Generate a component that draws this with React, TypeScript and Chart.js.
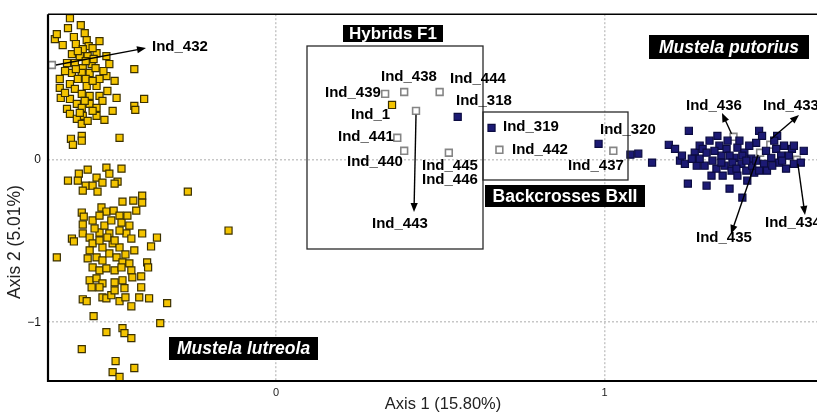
import React, { useEffect, useRef } from "react";
import { Chart, registerables } from "chart.js";
Chart.register(...registerables);

// Axis ticks
const xTickValues = [0, 1];
const yTickValues = [-1, 0];
const xTitle = "Axis 1 (15.80%)";
const yTitle = "Axis 2 (5.01%)";

// Mustela lutreola – upper cloud
const lutreolaUpper: [number, number][] = [
  [-0.628, 0.871], [-0.634, 0.81], [-0.595, 0.828], [-0.583, 0.779], [-0.674, 0.742],
  [-0.65, 0.706], [-0.616, 0.755], [-0.577, 0.736], [-0.61, 0.712], [-0.571, 0.699],
  [-0.589, 0.681], [-0.547, 0.656], [-0.622, 0.65], [-0.598, 0.638], [-0.574, 0.638],
  [-0.517, 0.638], [-0.637, 0.595], [-0.613, 0.595], [-0.562, 0.589], [-0.508, 0.589],
  [-0.589, 0.564], [-0.432, 0.558], [-0.622, 0.534], [-0.592, 0.534], [-0.568, 0.534],
  [-0.517, 0.515], [-0.659, 0.497], [-0.604, 0.497], [-0.492, 0.485], [-0.628, 0.466],
  [-0.577, 0.454], [-0.547, 0.454], [-0.659, 0.442], [-0.613, 0.436], [-0.514, 0.423],
  [-0.592, 0.405], [-0.568, 0.393], [-0.538, 0.393], [-0.656, 0.38], [-0.628, 0.374],
  [-0.486, 0.38], [-0.402, 0.374], [-0.607, 0.344], [-0.568, 0.344], [-0.432, 0.331],
  [-0.637, 0.313], [-0.592, 0.319], [-0.547, 0.319], [-0.498, 0.301], [-0.429, 0.307],
  [-0.628, 0.282], [-0.589, 0.27], [-0.547, 0.27], [-0.607, 0.252], [-0.523, 0.245],
  [-0.592, 0.221], [-0.477, 0.135], [-0.625, 0.129], [-0.592, 0.147], [-0.619, 0.092],
  [-0.592, 0.117], [-0.604, 0.669], [-0.559, 0.687], [-0.58, 0.607], [-0.55, 0.564],
  [-0.61, 0.558], [-0.538, 0.497], [-0.643, 0.546], [-0.556, 0.62], [-0.583, 0.362],
  [-0.559, 0.301], [-0.574, 0.239], [-0.538, 0.73], [-0.668, 0.773], [-0.526, 0.546],
  [-0.58, 0.497], [-0.559, 0.485], [-0.643, 0.411], [-0.529, 0.362], [-0.598, 0.288],
];

// Mustela lutreola – lower cloud
const lutreolaLower: [number, number][] = [
  [-0.634, -0.129], [-0.601, -0.086], [-0.604, -0.129], [-0.574, -0.061], [-0.547, -0.11],
  [-0.517, -0.049], [-0.508, -0.086], [-0.471, -0.055], [-0.483, -0.135], [-0.492, -0.147],
  [-0.529, -0.141], [-0.58, -0.16], [-0.559, -0.16], [-0.589, -0.19], [-0.544, -0.196],
  [-0.269, -0.196], [-0.408, -0.221], [-0.435, -0.252], [-0.408, -0.264], [-0.468, -0.258],
  [-0.532, -0.294], [-0.517, -0.319], [-0.495, -0.313], [-0.426, -0.313], [-0.592, -0.325],
  [-0.586, -0.35], [-0.477, -0.344], [-0.559, -0.374], [-0.471, -0.387], [-0.589, -0.399],
  [-0.447, -0.405], [-0.145, -0.436], [-0.622, -0.485], [-0.616, -0.503], [-0.408, -0.454],
  [-0.363, -0.479], [-0.381, -0.534], [-0.456, -0.454], [-0.441, -0.485], [-0.668, -0.601],
  [-0.589, -0.454], [-0.538, -0.448], [-0.568, -0.479], [-0.508, -0.454], [-0.477, -0.436],
  [-0.393, -0.632], [-0.39, -0.663], [-0.411, -0.718], [-0.411, -0.785], [-0.417, -0.847],
  [-0.387, -0.853], [-0.332, -0.883], [-0.589, -0.859], [-0.577, -0.871], [-0.529, -0.847],
  [-0.517, -0.853], [-0.502, -0.834], [-0.477, -0.871], [-0.459, -0.847], [-0.441, -0.902],
  [-0.556, -0.963], [-0.353, -1.006], [-0.517, -1.061], [-0.468, -1.037], [-0.462, -1.067],
  [-0.441, -1.098], [-0.592, -1.166], [-0.489, -1.239], [-0.432, -1.282], [-0.498, -1.307],
  [-0.477, -1.337], [-0.574, -0.607], [-0.547, -0.601], [-0.529, -0.62], [-0.508, -0.577],
  [-0.486, -0.601], [-0.468, -0.632], [-0.447, -0.638], [-0.559, -0.663], [-0.538, -0.681],
  [-0.517, -0.669], [-0.492, -0.681], [-0.471, -0.663], [-0.441, -0.681], [-0.568, -0.742],
  [-0.547, -0.73], [-0.529, -0.761], [-0.492, -0.755], [-0.468, -0.742], [-0.438, -0.724],
  [-0.562, -0.785], [-0.538, -0.785], [-0.492, -0.804], [-0.462, -0.791], [-0.559, -0.515],
  [-0.529, -0.54], [-0.498, -0.515], [-0.477, -0.54], [-0.538, -0.497], [-0.568, -0.558],
  [-0.514, -0.479], [-0.492, -0.497], [-0.523, -0.405], [-0.502, -0.374], [-0.538, -0.344],
  [-0.453, -0.344], [-0.553, -0.423], [-0.432, -0.558], [-0.459, -0.583],
];

// Ind_1 (lutreola-coloured point among the hybrids)
const lutreolaHybridZone: [number, number][] = [[0.353, 0.337]];

// Mustela putorius
const putorius: [number, number][] = [
  [1.257, 0.178], [1.196, 0.092], [1.215, 0.067], [1.23, -0.006], [1.245, -0.025],
  [1.254, -0.147], [1.275, 0.043], [1.281, -0.037], [1.29, 0.086], [1.299, 0.067],
  [1.305, -0.037], [1.311, -0.16], [1.326, -0.098], [1.329, -0.006], [1.344, 0.147],
  [1.35, 0.086], [1.356, 0.025], [1.36, -0.098], [1.366, -0.037], [1.372, 0.067],
  [1.381, -0.178], [1.387, -0.067], [1.396, 0.012], [1.405, 0.074], [1.405, -0.098],
  [1.417, -0.025], [1.42, -0.233], [1.426, 0.043], [1.432, -0.067], [1.435, -0.129],
  [1.447, 0.006], [1.456, -0.08], [1.462, 0.104], [1.471, 0.178], [1.48, 0.147],
  [1.486, -0.025], [1.495, -0.067], [1.508, 0.012], [1.523, 0.067], [1.526, 0.147],
  [1.532, -0.018], [1.538, 0.025], [1.547, 0.086], [1.553, -0.055], [1.571, 0.067],
  [1.577, -0.025], [1.598, -0.018], [1.607, 0.055], [1.577, 0.086], [1.275, 0.006],
  [1.29, 0.006], [1.311, 0.043], [1.335, 0.055], [1.341, -0.055], [1.381, 0.025],
  [1.39, -0.018], [1.411, 0.117], [1.42, 0.025], [1.441, 0.086], [1.45, -0.037],
  [1.462, -0.006], [1.471, -0.067], [1.492, 0.055], [1.511, -0.037], [1.517, 0.117],
  [1.541, -0.006], [1.562, 0.025], [1.375, 0.117], [1.32, 0.117], [1.266, 0.006],
  [1.236, 0.025], [1.356, -0.018], [1.402, -0.055], [1.432, -0.006],
  [1.079, 0.031], [1.103, 0.037], [1.145, -0.018],
  [0.982, 0.098], [0.553, 0.264], [0.656, 0.196],
];

// Hybrid / admixed individuals (open squares)
const hybridNames = [
  "Ind_439", "Ind_438", "Ind_444", "Ind_443", "Ind_441", "Ind_440", "Ind_445",
  "Ind_442", "Ind_437", "Ind_432", "Ind_436", "Ind_433", "Ind_435", "Ind_434",
];
const hybridX = [0.332, 0.39, 0.498, 0.426, 0.369, 0.39, 0.526, 0.68, 1.027, -0.683, 1.393, 1.505, 1.474, 1.586];
const hybridY = [0.405, 0.417, 0.417, 0.301, 0.135, 0.055, 0.043, 0.061, 0.055, 0.583, 0.141, 0.092, 0.043, 0.0];

const FONT = "'Liberation Sans', Arial, Helvetica, sans-serif";

function arrow(ctx: CanvasRenderingContext2D, x1: number, y1: number, x2: number, y2: number) {
  const a = Math.atan2(y2 - y1, x2 - x1);
  const hl = 9, hw = 3.6;
  ctx.save();
  ctx.strokeStyle = "#000";
  ctx.fillStyle = "#000";
  ctx.lineWidth = 1.4;
  ctx.beginPath();
  ctx.moveTo(x1, y1);
  ctx.lineTo(x2 - Math.cos(a) * hl * 0.8, y2 - Math.sin(a) * hl * 0.8);
  ctx.stroke();
  ctx.beginPath();
  ctx.moveTo(x2, y2);
  ctx.lineTo(x2 - Math.cos(a) * hl - Math.sin(a) * hw, y2 - Math.sin(a) * hl + Math.cos(a) * hw);
  ctx.lineTo(x2 - Math.cos(a) * hl + Math.sin(a) * hw, y2 - Math.sin(a) * hl - Math.cos(a) * hw);
  ctx.closePath();
  ctx.fill();
  ctx.restore();
}

function tag(ctx: CanvasRenderingContext2D, text: string, x: number, y: number, w: number, h: number, font: string) {
  ctx.save();
  ctx.fillStyle = "#000";
  ctx.fillRect(x, y, w, h);
  ctx.fillStyle = "#fff";
  ctx.font = font;
  ctx.textAlign = "center";
  ctx.textBaseline = "middle";
  ctx.fillText(text, x + w / 2, y + h / 2 + 1);
  ctx.restore();
}

const annotations = {
  id: "annotations",
  afterDatasetsDraw(chart: any) {
    const ctx: CanvasRenderingContext2D = chart.ctx;
    const { left, top, right, bottom } = chart.chartArea;
    const xs = chart.scales.x;
    const ys = chart.scales.y;
    const px = (i: number) => xs.getPixelForValue(hybridX[i]);
    const py = (i: number) => ys.getPixelForValue(hybridY[i]);
    const idx = (n: string) => hybridNames.indexOf(n);

    // group boxes
    ctx.save();
    ctx.strokeStyle = "#2a2a2a";
    ctx.lineWidth = 1.3;
    ctx.strokeRect(307, 46, 176, 203);
    ctx.strokeRect(483, 112, 145, 68);
    ctx.restore();

    // arrows
    let i = idx("Ind_432");
    arrow(ctx, px(i) + 4, py(i), 146, 48);
    i = idx("Ind_443");
    arrow(ctx, px(i), py(i) + 4, 414, 212);
    i = idx("Ind_436");
    arrow(ctx, px(i) - 2, py(i) - 3, 722, 113);
    i = idx("Ind_433");
    arrow(ctx, px(i) + 1, py(i) - 6, 799, 115);
    i = idx("Ind_435");
    arrow(ctx, px(i) - 2, py(i) + 2, 731, 234);
    i = idx("Ind_434");
    arrow(ctx, px(i) + 1, py(i) + 4, 805, 215);

    // labels
    ctx.save();
    ctx.fillStyle = "#000";
    ctx.font = `bold 15px ${FONT}`;
    ctx.textAlign = "left";
    ctx.textBaseline = "middle";
    const labels: [string, number, number][] = [
      ["Ind_432", 152, 47], ["Ind_438", 381, 77], ["Ind_444", 450, 79], ["Ind_439", 325, 93],
      ["Ind_318", 456, 101], ["Ind_1", 351, 115], ["Ind_441", 338, 137], ["Ind_319", 503, 127],
      ["Ind_442", 512, 150], ["Ind_320", 600, 130], ["Ind_437", 568, 166], ["Ind_440", 347, 162],
      ["Ind_445", 422, 166], ["Ind_446", 422, 180], ["Ind_443", 372, 224], ["Ind_436", 686, 106],
      ["Ind_433", 763, 106], ["Ind_435", 696, 238], ["Ind_434", 765, 223],
    ];
    for (const [t, x, y] of labels) ctx.fillText(t, x, y);
    ctx.restore();

    tag(ctx, "Hybrids F1", 343, 25, 100, 17, `bold 17px ${FONT}`);
    tag(ctx, "Backcrosses BxII", 485, 185, 160, 22, `bold 17.5px ${FONT}`);
    tag(ctx, "Mustela putorius", 649, 35, 160, 24, `italic bold 17.5px ${FONT}`);
    tag(ctx, "Mustela lutreola", 169, 337, 149, 23, `italic bold 17.5px ${FONT}`);

    // frame
    ctx.save();
    ctx.strokeStyle = "#000";
    ctx.lineWidth = 1.5;
    ctx.beginPath();
    ctx.moveTo(right, top);
    ctx.lineTo(left, top);
    ctx.stroke();
    ctx.lineWidth = 2.2;
    ctx.beginPath();
    ctx.moveTo(left, top);
    ctx.lineTo(left, bottom);
    ctx.lineTo(right, bottom);
    ctx.stroke();
    ctx.restore();

    // axis titles
    ctx.save();
    ctx.fillStyle = "#222";
    ctx.textAlign = "center";
    ctx.textBaseline = "middle";
    ctx.font = `16.5px ${FONT}`;
    ctx.fillText(xTitle, 443, 404);
    ctx.font = `17.5px ${FONT}`;
    ctx.translate(15, 242);
    ctx.rotate(-Math.PI / 2);
    ctx.fillText(yTitle, 0, 0);
    ctx.restore();
  },
};

const toPts = (a: [number, number][]) => a.map(([x, y]) => ({ x, y }));

export default function App() {
  const ref = useRef<HTMLCanvasElement | null>(null);
  useEffect(() => {
    if (!ref.current) return;
    const yellow = { bg: "#f4c400", bd: "#3b3000" };
    const navy = { bg: "#1c1a74", bd: "#0b0b40" };
    const grid = {
      color: "rgba(185,185,185,0.8)",
      lineWidth: 1.5,
      drawTicks: false,
    };
    const border = { display: false, dash: [2, 2] };
    const chart = new Chart(ref.current, {
      type: "scatter",
      data: {
        datasets: [
          {
            label: "Mustela lutreola",
            data: [...toPts(lutreolaUpper), ...toPts(lutreolaLower), ...toPts(lutreolaHybridZone)],
            pointStyle: "rect",
            pointRadius: 5,
            backgroundColor: yellow.bg,
            borderColor: yellow.bd,
            borderWidth: 1.2,
          },
          {
            label: "Mustela putorius",
            data: toPts(putorius),
            pointStyle: "rect",
            pointRadius: 5,
            backgroundColor: navy.bg,
            borderColor: navy.bd,
            borderWidth: 1.2,
          },
          {
            label: "Hybrids",
            data: hybridX.map((x, i) => ({ x, y: hybridY[i] })),
            pointStyle: "rect",
            pointRadius: 4.8,
            backgroundColor: "#ffffff",
            borderColor: "#858585",
            borderWidth: 1.6,
          },
        ],
      },
      options: {
        animation: false,
        responsive: true,
        maintainAspectRatio: false,
        layout: { padding: { top: 13, left: 0, right: 0, bottom: 0 } },
        plugins: { legend: { display: false }, tooltip: { enabled: false }, title: { display: false } },
        scales: {
          x: {
            type: "linear",
            min: -230 / 331,
            max: 562 / 331,
            border: border as any,
            grid: grid as any,
            afterBuildTicks: (s: any) => { s.ticks = xTickValues.map((v) => ({ value: v })); },
            afterFit: (s: any) => { s.height = 31; },
            ticks: {
              padding: 5,
              color: "#222",
              font: { family: FONT, size: 11 },
              callback: (v: any) => String(v),
            },
          },
          y: {
            type: "linear",
            min: -222 / 163,
            max: 146 / 163,
            border: border as any,
            grid: grid as any,
            afterBuildTicks: (s: any) => { s.ticks = yTickValues.map((v) => ({ value: v })); },
            afterFit: (s: any) => { s.width = 48; },
            ticks: {
              padding: 7,
              color: "#111",
              font: { family: FONT, size: 12 },
              callback: (v: any) => (Number(v) < 0 ? "\u2212" + Math.abs(Number(v)) : String(v)),
            },
          },
        },
      },
      plugins: [annotations],
    });
    return () => chart.destroy();
  }, []);

  return (
    <div style={{ position: "fixed", left: 0, top: 0, width: 817, height: 412, overflow: "hidden", background: "#fff" }}>
      <div style={{ position: "relative", width: 840, height: 412 }}>
        <canvas ref={ref} />
      </div>
    </div>
  );
}
